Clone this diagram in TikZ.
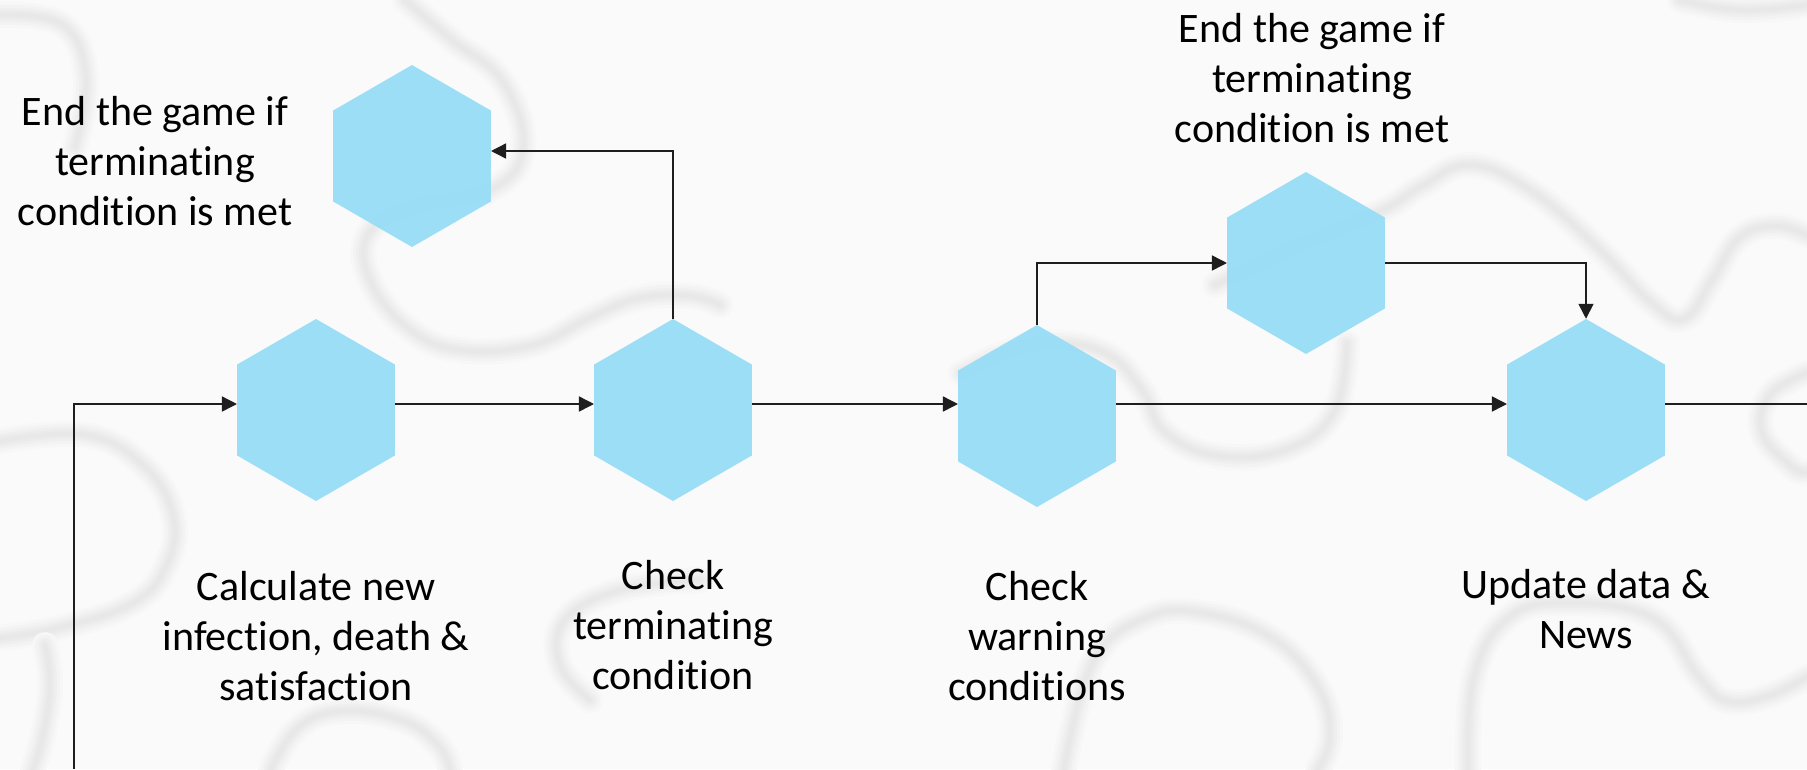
\documentclass[tikz,border=0pt]{standalone}
\usepackage{fontspec}
\setmainfont{Carlito}[Ligatures={NoCommon,NoRequired,NoContextual}]
\usetikzlibrary{shapes.geometric,arrows.meta}

\definecolor{hexfill}{HTML}{93DCF7}
\definecolor{paper}{HTML}{FAFAFA}
\definecolor{grooveA}{HTML}{F7F7F7}
\definecolor{grooveB}{HTML}{F3F3F3}
\definecolor{grooveC}{HTML}{EFEFEF}
\definecolor{grooveD}{HTML}{EBEBEB}
\definecolor{grooveE}{HTML}{E8E8E8}
\definecolor{wire}{HTML}{1E1E1E}

% soft grey puzzle-piece outline in the backdrop, built up in layers
\newcommand\puzzleedge[1]{%
  \draw[grooveA,line width=26pt,line cap=round] plot[smooth,tension=0.7] coordinates {#1};
  \draw[grooveB,line width=20pt,line cap=round] plot[smooth,tension=0.7] coordinates {#1};
  \draw[grooveC,line width=14pt,line cap=round] plot[smooth,tension=0.7] coordinates {#1};
  \draw[grooveD,line width=9pt,line cap=round] plot[smooth,tension=0.7] coordinates {#1};
  \draw[grooveE,line width=4pt,line cap=round] plot[smooth,tension=0.7] coordinates {#1};
}

\begin{document}
\begin{tikzpicture}[x=1pt,y=-1pt,
  hexstep/.style={regular polygon,regular polygon sides=6,shape border rotate=30,
    fill=hexfill,fill opacity=0.9,draw=none,minimum size=182pt,inner sep=0pt},
  caption/.style={align=center,font=\fontsize{42}{50}\selectfont,text=black,inner sep=0pt},
  link/.style={draw=wire,line width=1.5pt,-{Triangle[length=15pt,width=15pt]}},
  plain/.style={draw=wire,line width=1.5pt}]

% backdrop
\fill[paper] (0,0) rectangle (1807,769);
\useasboundingbox (0,0) rectangle (1807,769);

\puzzleedge{(405,0) (452,40) (503,82) (523,148) (490,190) (410,208) (368,235) (370,280) (408,328) (460,350) (533,345) (591,317) (640,298) (690,296) (720,305)}
\puzzleedge{(961,373) (1000,355) (1047,343) (1105,353) (1142,390) (1165,432) (1220,456) (1290,448) (1335,410) (1347,343)}
\puzzleedge{(1215,285) (1300,245) (1381,211) (1422,186) (1470,165) (1530,190) (1595,245) (1653,304) (1685,318) (1712,280) (1739,238) (1775,226) (1807,235)}
\puzzleedge{(1680,0) (1740,10) (1807,5)}
\puzzleedge{(1807,373) (1770,395) (1762,432) (1791,466) (1807,472)}
\puzzleedge{(1064,769) (1093,662) (1145,618) (1203,613) (1272,638) (1318,687) (1330,736) (1318,769)}
\puzzleedge{(1468,769) (1474,677) (1508,618) (1566,603) (1653,618) (1699,677) (1727,701) (1768,696) (1807,677)}
\puzzleedge{(0,441) (86,435) (144,466) (173,515) (167,564) (133,603) (58,628) (0,638)}
\puzzleedge{(45,645) (50,685) (43,735) (33,769)}
\puzzleedge{(271,769) (300,726) (346,711) (404,721) (438,745) (450,769)}
\puzzleedge{(0,15) (63,25) (86,78) (75,147)}
\puzzleedge{(700,580) (620,590) (565,620) (560,665) (590,700)}

% process steps
\node[hexstep] (h1) at (316,410) {};
\node[hexstep] (h2) at (673,410) {};
\node[hexstep] (h3) at (1037,416) {};
\node[hexstep] (h4) at (1586,410) {};
\node[hexstep] (e1) at (412,156) {};
\node[hexstep] (e2) at (1306,263) {};

% captions
\node[caption] (t1) at (155,161) {End the game if\\terminating\\condition is met};
\node[caption] (t2) at (1312,78) {End the game if\\terminating\\condition is met};
\node[caption] (c1) at (316,636) {Calculate new\\infection, death \&\\satisfaction};
\node[caption] (c2) at (673,625) {Check\\terminating\\condition};
\node[caption] (c3) at (1037,636) {Check\\warning\\conditions};
\node[caption] (c4) at (1586,609) {Update data \&\\News};

% connectors
\coordinate (row) at (0,404);
\coordinate (loopfoot) at (74,769);
\coordinate (exit) at (1807,404);

\draw[link] (loopfoot) |- (h1.west |- row);
\draw[link] (h1.east |- row) -- (h2.west |- row);
\draw[link] (h2.east |- row) -- (h3.west |- row);
\draw[link] (h3.east |- row) -- (h4.west |- row);
\draw[plain] (h4.east |- row) -- (exit);
\draw[link] (h2.north) |- ([yshift=5pt]e1.east);
\draw[link] (h3.north) |- (e2.west);
\draw[link] (e2.east) -| (h4.north);
\end{tikzpicture}
\end{document}
